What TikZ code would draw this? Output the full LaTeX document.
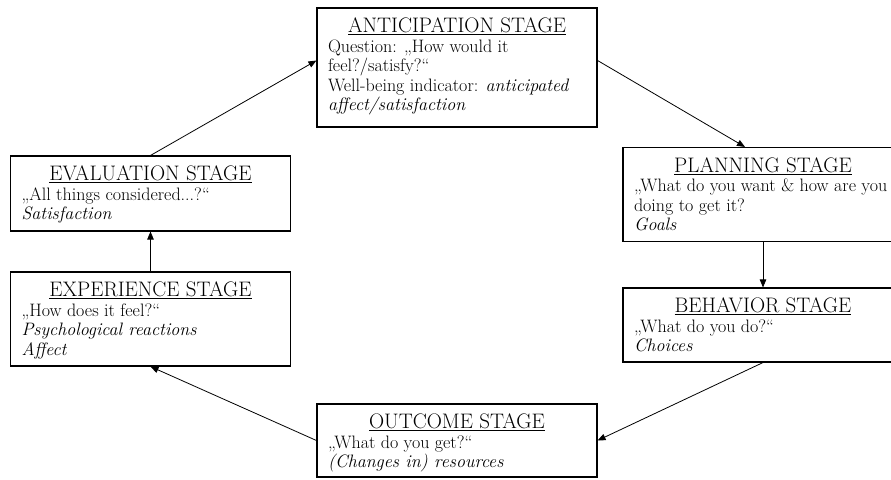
\documentclass[tikz,border=0pt]{standalone}
\usepackage{fontspec}
\usetikzlibrary{arrows.meta}
\tikzset{
  stage/.style={draw, line width=1.1pt, inner xsep=11pt, inner ysep=10pt},
  >={Triangle[length=8pt,width=6.5pt]}
}
\newcommand{\stagetext}[3]{\parbox[c][#1][t]{258pt}{\centering{\fontsize{21}{22}\selectfont\underline{#2}}\par
  \raggedright\fontsize{18}{19.5}\selectfont #3}}
\begin{document}
\begin{tikzpicture}[x=1pt,y=-1pt]
\useasboundingbox (0,0) rectangle (891,479);
\fill[white] (0,0) rectangle (891,479);
\clip (0,0) rectangle (891,479);
%
\node[stage] (1) at (457,67.5) {\stagetext{99pt}{ANTICIPATION STAGE}{Question: „How would it\\feel?/satisfy?“\\Well-being indicator: \textit{anticipated}\\\textit{affect/satisfaction}}};
\node[stage] (2) at (763,194.5) {\stagetext{74pt}{PLANNING STAGE}{\mbox{„What do you want \& how are you}\\doing to get it?\\\textit{Goals}}};
\node[stage] (3) at (763,325) {\stagetext{54pt}{BEHAVIOR STAGE}{„What do you do?“\\\textit{Choices}}};
\node[stage] (4) at (457,440.5) {\stagetext{53pt}{OUTCOME STAGE}{„What do you get?“\\\textit{(Changes in) resources}}};
\node[stage] (5) at (150.5,319) {\stagetext{74pt}{EXPERIENCE STAGE}{„How does it feel?“\\\textit{Psychological reactions}\\\textit{Affect}}};
\node[stage] (6) at (150.5,193.5) {\stagetext{55pt}{EVALUATION STAGE}{„All things considered...?“\\\textit{Satisfaction}}};
%
\draw [->, line width=0.8pt] (6.north) -- ([yshift=7pt]1.west);
\draw [->, line width=0.8pt] ([yshift=7pt]1.east) -- ([xshift=-18pt]2.north);
\draw [->, line width=0.8pt] (2.south) -- (3.north);
\draw [->, line width=0.8pt] (3.south) -- (4.east);
\draw [->, line width=0.8pt] (4.west) -- (5.south);
\draw [->, line width=0.8pt] (5.north) -- (6.south);
%
\end{tikzpicture}
\end{document}
